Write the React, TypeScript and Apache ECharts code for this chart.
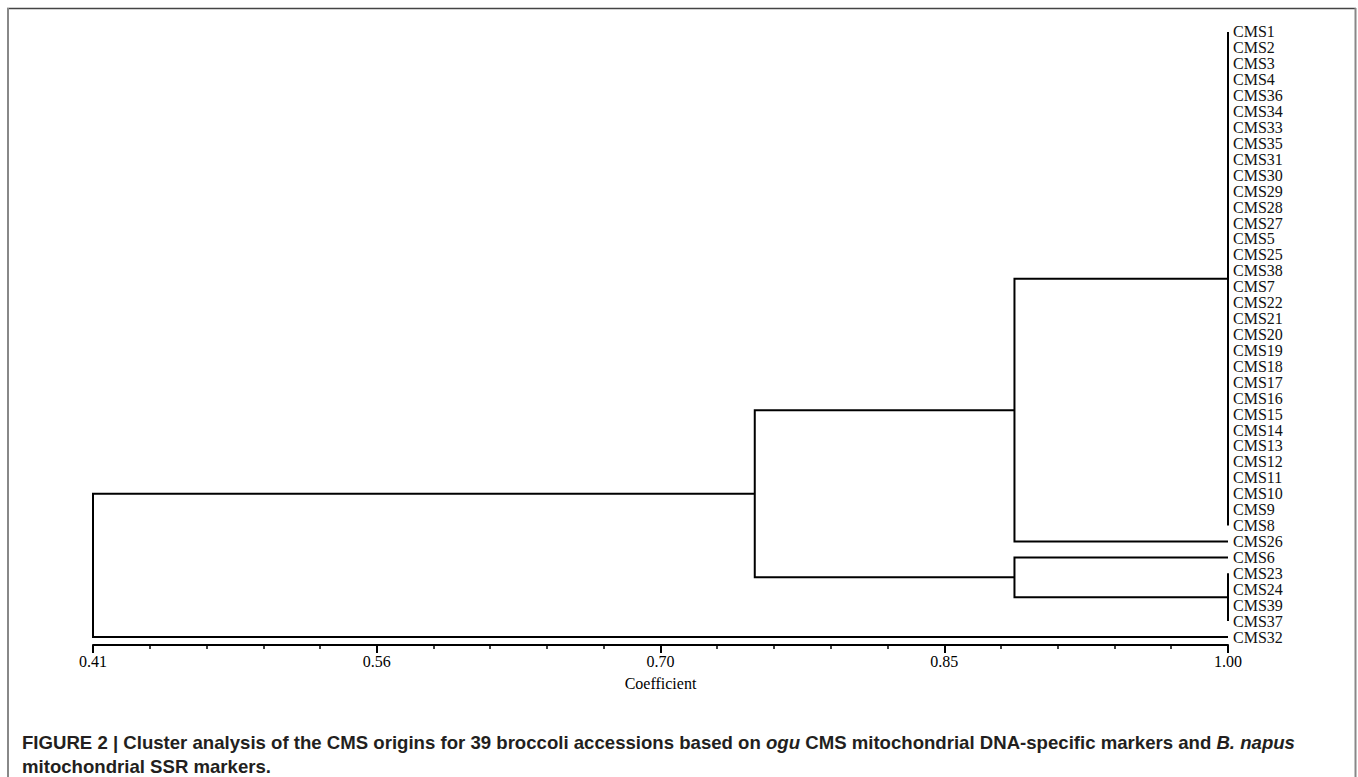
import React, { useEffect, useRef } from "react";
import * as echarts from "echarts";

// Leaves, top to bottom, as in the dendrogram
const leafNames = [
  "CMS1", "CMS2", "CMS3", "CMS4", "CMS36", "CMS34", "CMS33", "CMS35", "CMS31", "CMS30",
  "CMS29", "CMS28", "CMS27", "CMS5", "CMS25", "CMS38", "CMS7", "CMS22", "CMS21", "CMS20",
  "CMS19", "CMS18", "CMS17", "CMS16", "CMS15", "CMS14", "CMS13", "CMS12", "CMS11", "CMS10",
  "CMS9", "CMS8", "CMS26", "CMS6", "CMS23", "CMS24", "CMS39", "CMS37", "CMS32",
];
const leafCoefficient = 1.0;

// Clusters (merge order), their similarity coefficient and members
const clusterIds = ["A", "B", "C", "D", "E", "root"];
const clusterCoefficients = [1.0, 1.0, 0.889, 0.889, 0.754, 0.41];
const clusterMembers = [
  [
    "CMS1", "CMS2", "CMS3", "CMS4", "CMS36", "CMS34", "CMS33", "CMS35", "CMS31", "CMS30",
    "CMS29", "CMS28", "CMS27", "CMS5", "CMS25", "CMS38", "CMS7", "CMS22", "CMS21", "CMS20",
    "CMS19", "CMS18", "CMS17", "CMS16", "CMS15", "CMS14", "CMS13", "CMS12", "CMS11", "CMS10",
    "CMS9", "CMS8",
  ],
  ["CMS23", "CMS24", "CMS39", "CMS37"],
  ["A", "CMS26"],
  ["CMS6", "B"],
  ["C", "D"],
  ["E", "CMS32"],
];

// Axis ticks
const majorTickValues = [0.41, 0.5575, 0.705, 0.8525, 1.0];
const majorTickLabels = ["0.41", "0.56", "0.70", "0.85", "1.00"];
const minorDivisions = 5;

function buildSegments() {
  const pos: Record<string, { x: number; y: number }> = {};
  leafNames.forEach((n, i) => {
    pos[n] = { x: leafCoefficient, y: i };
  });
  const segs: any[] = [];
  clusterIds.forEach((id, k) => {
    const h = clusterCoefficients[k];
    const kids = clusterMembers[k].map((c) => pos[c]);
    const first = kids[0];
    const last = kids[kids.length - 1];
    segs.push({
      coords: [
        [first.x, first.y],
        [h, first.y],
        [h, last.y],
        [last.x, last.y],
      ],
    });
    kids.slice(1, -1).forEach((c) => {
      if (c.x !== h) segs.push({ coords: [[c.x, c.y], [h, c.y]] });
    });
    pos[id] = { x: h, y: (first.y + last.y) / 2 };
  });
  return segs;
}

function minorTicks() {
  const out: number[] = [];
  for (let i = 0; i < majorTickValues.length - 1; i++) {
    const a = majorTickValues[i];
    const b = majorTickValues[i + 1];
    for (let j = 1; j < minorDivisions; j++) out.push(a + ((b - a) * j) / minorDivisions);
  }
  return out;
}

const serif = "'Liberation Serif', 'Times New Roman', serif";
const sans = "'Liberation Sans', Arial, sans-serif";

export default function App() {
  const ref = useRef<HTMLDivElement>(null);

  useEffect(() => {
    if (!ref.current) return;
    const chart = echarts.init(ref.current, undefined, { renderer: "svg" });
    const capSize = 18.6;
    chart.setOption({
      animation: false,
      backgroundColor: "#ffffff",
      grid: { left: 93, right: 130, top: 24, bottom: 132, containLabel: false },
      xAxis: [
        {
          type: "value",
          min: 0.41,
          max: 1.0,
          position: "bottom",
          axisLine: { show: true, onZero: false, lineStyle: { color: "#000", width: 2 } },
          axisTick: {
            show: true,
            customValues: majorTickValues,
            length: 8,
            lineStyle: { color: "#000", width: 2 },
          },
          axisLabel: {
            customValues: majorTickValues,
            formatter: (v: number) => {
              const i = majorTickValues.findIndex((t) => Math.abs(t - v) < 1e-6);
              return i >= 0 ? majorTickLabels[i] : "";
            },
            margin: 8,
            fontFamily: serif,
            fontSize: 16,
            color: "#000",
          },
          splitLine: { show: false },
          name: "Coefficient",
          nameLocation: "middle",
          nameGap: 30,
          nameTextStyle: { fontFamily: serif, fontSize: 16, color: "#000" },
        },
        {
          type: "value",
          min: 0.41,
          max: 1.0,
          position: "bottom",
          axisLine: { show: false, onZero: false },
          axisTick: {
            show: true,
            customValues: minorTicks(),
            length: 4,
            lineStyle: { color: "#000", width: 1.5 },
          },
          axisLabel: { show: false },
          splitLine: { show: false },
        },
      ],
      yAxis: [
        {
          type: "value",
          min: -0.5,
          max: leafNames.length - 0.5,
          inverse: true,
          show: false,
          position: "left",
          axisLine: { onZero: false },
        },
        {
          type: "category",
          data: leafNames,
          inverse: true,
          position: "right",
          axisLine: { show: false, onZero: false },
          axisTick: { show: false },
          splitLine: { show: false },
          axisLabel: {
            interval: 0,
            margin: 5,
            fontFamily: serif,
            fontSize: 16,
            color: "#111",
          },
        },
      ],
      series: [
        {
          type: "lines",
          coordinateSystem: "cartesian2d",
          xAxisIndex: 0,
          yAxisIndex: 0,
          polyline: true,
          silent: true,
          lineStyle: { color: "#000", width: 2, opacity: 1 },
          data: buildSegments(),
        },
      ],
      graphic: [
        { type: "line", shape: { x1: 7, y1: 8.5, x2: 1356, y2: 8.5 }, style: { stroke: "#444", lineWidth: 1.5 } },
        { type: "line", shape: { x1: 8, y1: 8, x2: 8, y2: 777 }, style: { stroke: "#888", lineWidth: 2 } },
        { type: "line", shape: { x1: 1355.5, y1: 8, x2: 1355.5, y2: 777 }, style: { stroke: "#888", lineWidth: 2 } },
        {
          type: "text",
          x: 22,
          y: 742,
          style: {
            text:
              "{b|FIGURE 2 | Cluster analysis of the CMS origins for 39 broccoli accessions based on }{i|ogu}{b| CMS mitochondrial DNA-specific markers and }{i|B. napus}",
            verticalAlign: "middle",
            rich: {
              b: { fontFamily: sans, fontSize: capSize, fontWeight: "bold", fill: "#231f20" },
              i: { fontFamily: sans, fontSize: capSize, fontWeight: "bold", fontStyle: "italic", fill: "#231f20" },
            },
          },
        },
        {
          type: "text",
          x: 22,
          y: 766,
          style: {
            text: "mitochondrial SSR markers.",
            verticalAlign: "middle",
            fontFamily: sans,
            fontSize: capSize,
            fontWeight: "bold",
            fill: "#231f20",
          },
        },
      ],
    });
    return () => chart.dispose();
  }, []);

  return (
    <div
      ref={ref}
      style={{ position: "absolute", left: 0, top: 0, width: 1358, height: 777 }}
    />
  );
}
